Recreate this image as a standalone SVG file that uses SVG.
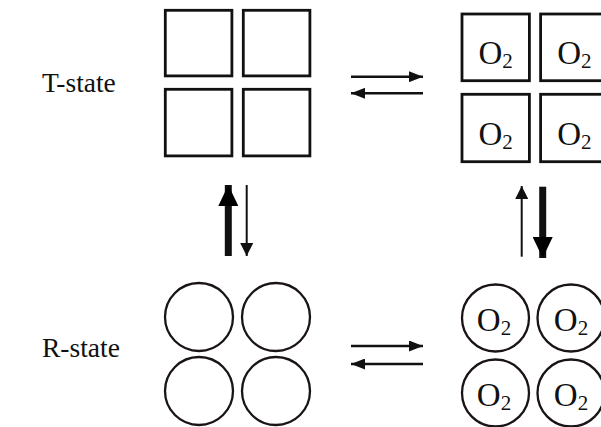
<svg xmlns="http://www.w3.org/2000/svg" width="601" height="427" viewBox="0 0 601 427">
<style>
.box{fill:#fff;stroke:#111;stroke-width:2.8}
.ring{fill:#fff;stroke:#1a1414;stroke-width:2.3}
.lbl{font-family:"Liberation Serif","Times New Roman",serif;font-size:27.5px;fill:#111}
.o2{font-family:"Liberation Serif","Times New Roman",serif;font-size:33px;fill:#111;text-anchor:middle}
.sub{font-size:21px}
.ln{stroke:#111;fill:none}
</style>
<defs>
<marker id="hs" markerUnits="userSpaceOnUse" markerWidth="14" markerHeight="11" refX="14" refY="5.5" orient="auto"><path d="M0,0 L14,5.5 L0,11 z" fill="#111"/></marker>
<marker id="hm" markerUnits="userSpaceOnUse" markerWidth="13" markerHeight="13" refX="13" refY="6.5" orient="auto"><path d="M0,0 L13,6.5 L0,13 z" fill="#111"/></marker>
<marker id="hl" markerUnits="userSpaceOnUse" markerWidth="21" markerHeight="20" refX="21" refY="10" orient="auto"><path d="M0,0 L21,10 L0,20 z" fill="#000"/></marker>
</defs>
<g id="label-t"><text class="lbl" x="42" y="92">T-state</text></g>
<g id="label-r"><text class="lbl" x="42" y="357">R-state</text></g>
<g id="t-empty">
<rect class="box" x="165.3" y="10.3" width="66.6" height="65.6"/>
<rect class="box" x="243.3" y="10.3" width="66.6" height="65.6"/>
<rect class="box" x="165.3" y="89.3" width="66.6" height="66.6"/>
<rect class="box" x="243.3" y="89.3" width="66.6" height="66.6"/>
</g>
<g id="t-o2">
<rect class="box" x="462" y="14" width="67.4" height="66.7"/>
<rect class="box" x="540.6" y="14" width="67.4" height="66.7"/>
<rect class="box" x="462" y="94.3" width="67.4" height="67.4"/>
<rect class="box" x="540.6" y="94.3" width="67.4" height="67.4"/>
<text class="o2" x="495.7" y="64">O<tspan class="sub" dy="4">2</tspan></text>
<text class="o2" x="574.3" y="64">O<tspan class="sub" dy="4">2</tspan></text>
<text class="o2" x="495.7" y="145">O<tspan class="sub" dy="4">2</tspan></text>
<text class="o2" x="574.3" y="145">O<tspan class="sub" dy="4">2</tspan></text>
</g>
<g id="r-empty">
<circle class="ring" cx="199" cy="317" r="34"/>
<circle class="ring" cx="276" cy="317" r="34"/>
<circle class="ring" cx="199" cy="391" r="34"/>
<circle class="ring" cx="276" cy="391" r="34"/>
</g>
<g id="r-o2">
<circle class="ring" cx="495.5" cy="318" r="33.5"/>
<circle class="ring" cx="571" cy="318" r="33.5"/>
<circle class="ring" cx="495.5" cy="393" r="33.5"/>
<circle class="ring" cx="571" cy="393" r="33.5"/>
<text class="o2" x="494" y="331">O<tspan class="sub" dy="4">2</tspan></text>
<text class="o2" x="571" y="331">O<tspan class="sub" dy="4">2</tspan></text>
<text class="o2" x="494" y="406">O<tspan class="sub" dy="4">2</tspan></text>
<text class="o2" x="571" y="406">O<tspan class="sub" dy="4">2</tspan></text>
</g>
<g id="connectors">
<line class="ln" stroke-width="2.4" x1="351" y1="76.7" x2="423" y2="76.7" marker-end="url(#hs)"/>
<line class="ln" stroke-width="2.4" x1="423" y1="93.3" x2="351" y2="93.3" marker-end="url(#hs)"/>
<line class="ln" stroke-width="2.4" x1="351" y1="346" x2="423" y2="346" marker-end="url(#hs)"/>
<line class="ln" stroke-width="2.4" x1="423" y1="364" x2="351" y2="364" marker-end="url(#hs)"/>
<line class="ln" stroke-width="7" x1="228.3" y1="256" x2="228.3" y2="185" marker-end="url(#hl)"/>
<line class="ln" stroke-width="2" x1="246.7" y1="185" x2="246.7" y2="256" marker-end="url(#hm)"/>
<line class="ln" stroke-width="2" x1="521.7" y1="256.7" x2="521.7" y2="186" marker-end="url(#hm)"/>
<line class="ln" stroke-width="7" x1="542.7" y1="186.7" x2="542.7" y2="258" marker-end="url(#hl)"/>
</g>
</svg>
